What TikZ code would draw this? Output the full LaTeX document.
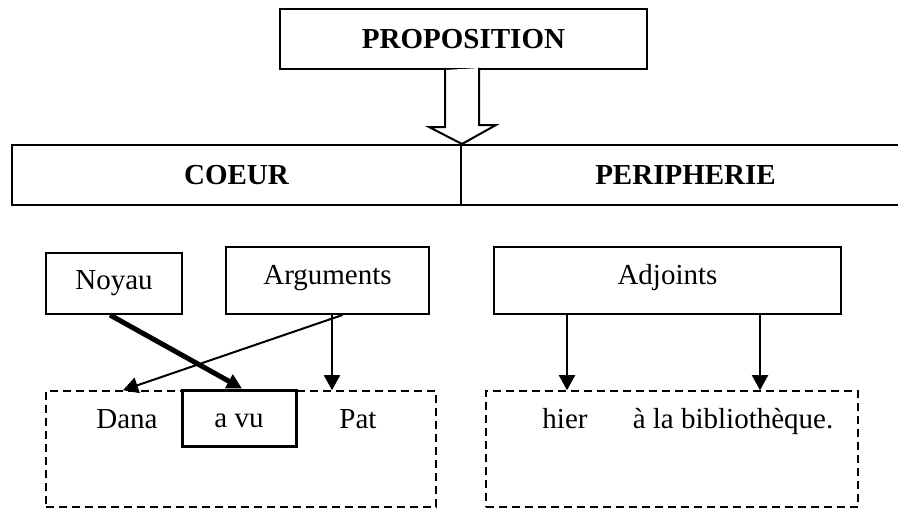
\documentclass[tikz,border=0pt]{standalone}
\usepackage{fontspec}
\setmainfont{Liberation Serif}
\usetikzlibrary{arrows.meta, positioning, calc}

\tikzset{
    boite/.style={draw=black, line width=1pt, inner sep=0pt},
    titre/.style={font=\fontsize{14.5}{17}\selectfont\bfseries},
    pointille/.style={draw=black, line width=0.8pt, dash pattern=on 4pt off 2.5pt, inner sep=0pt},
    fleche/.style={line width=1pt, -{Triangle[length=7.5pt,width=8pt]}},
    grosfleche/.style={line width=2.5pt, -{Triangle[length=7.5pt,width=7.5pt]}}
}

\begin{document}
\begin{tikzpicture}[x=0.5pt, y=-0.5pt, font=\fontsize{14.5}{17}\selectfont]
    \useasboundingbox (0,0) rectangle (898,508);

    % Proposition
    \node[boite, titre, minimum width=183.5pt, minimum height=30pt] (prop) at (463.5,39) {PROPOSITION};

    % Coeur et peripherie
    \node[boite, titre, minimum width=224.5pt, minimum height=30pt] (coeur) at (236.5,175) {COEUR};
    \node[boite, titre, minimum width=224.5pt, minimum height=30pt] (peri) at (685.5,175) {PERIPHERIE};

    % Fleche creuse
    \coordinate (pointe) at (coeur.north east);
    \draw[line width=1pt, line join=miter, fill=white] (pointe |- prop.south) ++(-17,0) -- ++(0,57) -- ++(-16,0)
        -- (pointe) -- ++(34,-19) -- ++(-17,0) -- ++(0,-57);

    % Etiquettes
    \node[boite, minimum width=68pt, minimum height=30.5pt] (noyau) at (114,283.5) {Noyau};
    \node[boite, minimum width=101.5pt, minimum height=33.5pt, text depth=6pt] (args) at (327.5,280.5) {Arguments};
    \node[boite, minimum width=173.5pt, minimum height=33.5pt, text depth=6pt] (adj) at (667.5,280.5) {Adjoints};

    % Phrase
    \node[pointille, minimum width=195pt, minimum height=58pt] (phrase1) at (241,449) {};
    \node[pointille, minimum width=186pt, minimum height=58pt] (phrase2) at (672,449) {};
    \node[anchor=base] (dana) at (127,428) {Dana};
    \node[boite, line width=1.5pt, minimum width=57pt, minimum height=28pt, text height=10pt] (avu) at (239,418) {a vu};
    \node[anchor=base] (pat) at (358,428) {Pat};
    \node[anchor=base] (hier) at (565,428) {hier};
    \node[anchor=base] (biblio) at (733,428) {à la bibliothèque.};

    % Fleches
    \draw[grosfleche] ($(noyau.south)+(-4,0)$) -- ($(avu.north)+(3,0)$);
    \draw[fleche] ($(args.south)+(15,0)$) -- ($(dana |- phrase1.north)+(-4,0)$);
    \coordinate (argpt) at ($(args.south)+(4.5,0)$);
    \draw[fleche] (argpt) -- (argpt |- phrase1.north);
    \coordinate (hierpt) at ($(adj.south)+(-100.5,0)$);
    \draw[fleche] (hierpt) -- (hierpt |- phrase2.north);
    \coordinate (bibpt) at ($(adj.south)+(92.5,0)$);
    \draw[fleche] (bibpt) -- (bibpt |- phrase2.north);
\end{tikzpicture}
\end{document}
